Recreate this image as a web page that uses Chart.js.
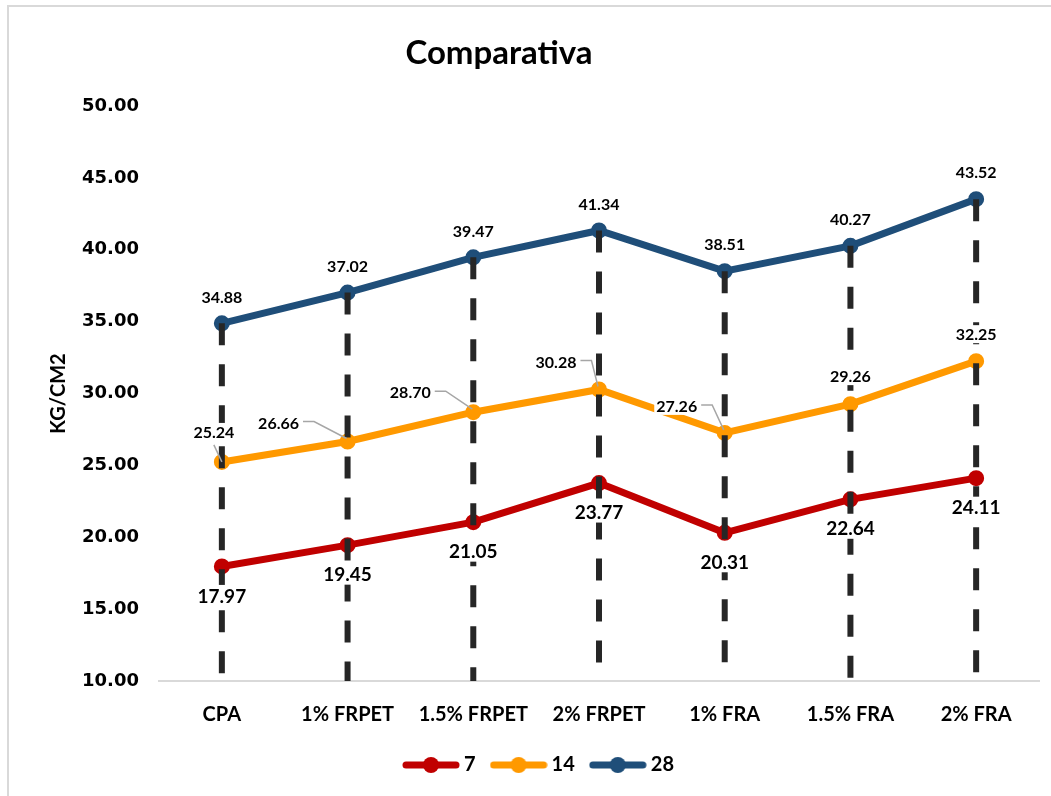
<!DOCTYPE html>
<html>
<head>
<meta charset="utf-8">
<script src="https://cdn.jsdelivr.net/npm/chart.js@4.4.1/dist/chart.umd.min.js"></script>
<style>
  html, body { margin: 0; padding: 0; background: #fff; }
  #caja { width: 1051px; height: 796px; }
</style>
</head>
<body>
<div id="caja"><canvas id="grafica" width="1051" height="796"></canvas></div>
<script>
// Datos
var categorias = ["CPA", "1% FRPET", "1.5% FRPET", "2% FRPET", "1% FRA", "1.5% FRA", "2% FRA"];
var valores7 = [17.97, 19.45, 21.05, 23.77, 20.31, 22.64, 24.11];
var valores14 = [25.24, 26.66, 28.70, 30.28, 27.26, 29.26, 32.25];
var valores28 = [34.88, 37.02, 39.47, 41.34, 38.51, 40.27, 43.52];
var series = ["7", "14", "28"];
var ejeMin = 10;
var ejeMax = 50;
var paso = 5;

// colores
var rojo = "#C00000";
var naranja = "#FF9900";
var azul = "#1F4E79";

// posicion de las etiquetas (px respecto al punto)
var desfase7 = [0, 29];
var desfase28 = [0, -27];
var desfase14 = [[-8, -30], [-69, -19], [-63, -20], [-43, -28], [-48, -27], [0, -28], [0, -27]];
var guia14 = ["abajo", "lado", "lado", "lado", "lado", "", ""];

var letra = "Lato, 'Open Sans', sans-serif";
var peso = "bold";
Chart.defaults.font.family = letra;
Chart.defaults.font.weight = peso;
Chart.defaults.color = "#000";

function simbolo(color) {
  var c = document.createElement("canvas");
  c.width = 58;
  c.height = 18;
  var g = c.getContext("2d");
  g.strokeStyle = color;
  g.lineWidth = 7;
  g.lineCap = "round";
  g.beginPath();
  g.moveTo(4, 9);
  g.lineTo(54, 9);
  g.stroke();
  g.fillStyle = color;
  g.beginPath();
  g.arc(29, 9, 8, 0, Math.PI * 2);
  g.fill();
  return c;
}

var marco = {
  id: "marco",
  beforeDraw: function (chart) {
    var ctx = chart.ctx;
    ctx.save();
    ctx.fillStyle = "#fff";
    ctx.fillRect(0, 0, chart.width, chart.height);
    ctx.strokeStyle = "#D9D9D9";
    ctx.lineWidth = 2;
    ctx.beginPath();
    ctx.moveTo(7, 6);
    ctx.lineTo(chart.width, 6);
    ctx.moveTo(8, 5);
    ctx.lineTo(8, chart.height);
    ctx.stroke();
    // titulo
    ctx.fillStyle = "#000";
    ctx.font = peso + " 33px " + letra;
    ctx.textAlign = "center";
    ctx.textBaseline = "middle";
    ctx.fillText("Comparativa", 499, 53);
    ctx.restore();
  }
};

function etiqueta(ctx, texto, cx, cy, tam) {
  ctx.font = peso + " " + tam + "px " + letra;
  var w = ctx.measureText(texto).width;
  ctx.fillStyle = "#fff";
  ctx.fillRect(cx - w / 2 - 2, cy - tam / 2 - 1, w + 4, tam + 2);
  ctx.fillStyle = "#000";
  ctx.fillText(texto, cx, cy + 1);
  return w;
}

var caidas = {
  id: "caidas",
  afterDatasetsDraw: function (chart) {
    var ctx = chart.ctx;
    var area = chart.chartArea;
    var arriba = chart.getDatasetMeta(2).data;
    ctx.save();
    ctx.strokeStyle = "#262626";
    ctx.lineWidth = 6;
    ctx.setLineDash([22, 19]);
    arriba.forEach(function (p) {
      ctx.beginPath();
      ctx.moveTo(p.x, p.y);
      ctx.lineTo(p.x, area.bottom);
      ctx.stroke();
    });
    ctx.setLineDash([]);

    ctx.textAlign = "center";
    ctx.textBaseline = "middle";
    // serie 28
    chart.getDatasetMeta(2).data.forEach(function (p, i) {
      etiqueta(ctx, valores28[i].toFixed(2), p.x + desfase28[0], p.y + desfase28[1], 16);
    });
    // serie 14 con lineas guia
    chart.getDatasetMeta(1).data.forEach(function (p, i) {
      var cx = p.x + desfase14[i][0];
      var cy = p.y + desfase14[i][1];
      ctx.font = peso + " 16px " + letra;
      var w = ctx.measureText(valores14[i].toFixed(2)).width;
      ctx.strokeStyle = "#A6A6A6";
      ctx.lineWidth = 1.5;
      if (guia14[i] === "lado") {
        ctx.beginPath();
        ctx.moveTo(cx + w / 2 + 4, cy - 1);
        ctx.lineTo(cx + w / 2 + 15, cy - 1);
        ctx.lineTo(p.x - 1, p.y - 3);
        ctx.stroke();
      } else if (guia14[i] === "abajo") {
        ctx.beginPath();
        ctx.moveTo(cx, cy + 13);
        ctx.lineTo(p.x, p.y);
        ctx.stroke();
      }
      etiqueta(ctx, valores14[i].toFixed(2), cx, cy, 16);
    });
    // serie 7
    chart.getDatasetMeta(0).data.forEach(function (p, i) {
      etiqueta(ctx, valores7[i].toFixed(2), p.x + desfase7[0], p.y + desfase7[1], 19);
    });
    ctx.restore();
  }
};

function serie(nombre, datos, color) {
  return {
    label: nombre,
    data: datos,
    borderColor: color,
    backgroundColor: color,
    borderWidth: 7,
    pointRadius: 7,
    pointBorderWidth: 2,
    pointBorderColor: color,
    pointBackgroundColor: color,
    tension: 0
  };
}

new Chart(document.getElementById("grafica"), {
  type: "line",
  data: {
    labels: categorias,
    datasets: [
      serie(series[0], valores7, rojo),
      serie(series[1], valores14, naranja),
      serie(series[2], valores28, azul)
    ]
  },
  options: {
    responsive: false,
    animation: false,
    devicePixelRatio: 1,
    layout: { padding: { top: 106, left: 43, right: 12, bottom: 11 } },
    plugins: {
      title: { display: false },
      tooltip: { enabled: false },
      legend: {
        position: "bottom",
        labels: {
          usePointStyle: true,
          pointStyleWidth: 46,
          padding: 20,
          font: { size: 20, weight: peso },
          generateLabels: function (chart) {
            var lista = Chart.defaults.plugins.legend.labels.generateLabels(chart);
            lista.forEach(function (it) {
              it.pointStyle = simbolo(chart.data.datasets[it.datasetIndex].borderColor);
            });
            return lista;
          }
        }
      }
    },
    scales: {
      x: {
        offset: true,
        grid: { display: false, drawTicks: false },
        border: { display: true, color: "#D9D9D9", width: 2 },
        ticks: { padding: 22, font: { size: 20, weight: peso }, maxRotation: 0 },
        afterFit: function (s) { s.height = 54; }
      },
      y: {
        min: ejeMin,
        max: ejeMax,
        grid: { display: false, drawTicks: false },
        border: { display: false },
        ticks: {
          stepSize: paso,
          padding: 20,
          font: { family: "'DejaVu Sans', Verdana, sans-serif", size: 18, weight: "bold" },
          callback: function (v) { return v.toFixed(2); }
        },
        title: { display: true, text: "KG/CM2", font: { size: 20, weight: peso } },
        afterFit: function (s) { s.width = 159 - 43; }
      }
    }
  },
  plugins: [marco, caidas]
});
</script>
</body>
</html>
